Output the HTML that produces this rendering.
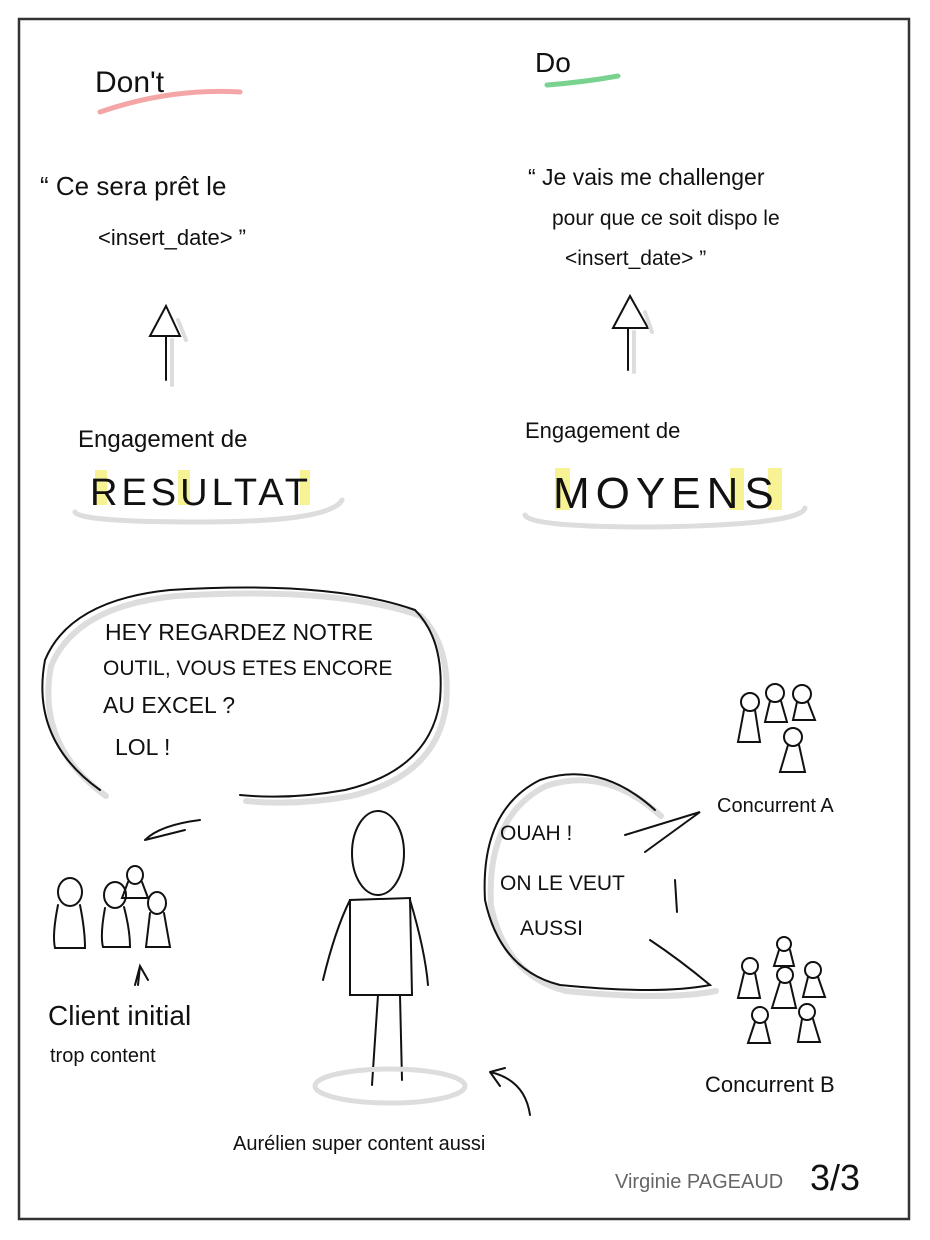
<!DOCTYPE html>
<html><head><meta charset="utf-8"><style>
html,body{margin:0;padding:0;background:#fff;}
svg{display:block;}
text{font-family:"Liberation Sans",sans-serif;fill:#111;}
</style></head><body>
<svg width="930" height="1240" viewBox="0 0 930 1240" xmlns="http://www.w3.org/2000/svg">
<rect x="19" y="19" width="890" height="1200" fill="#fff" stroke="#333" stroke-width="2.5"/>
<g fill="none" stroke-linecap="round">
<!-- headers underline -->
<path d="M100 112 Q170 88 240 92" stroke="#f4a5a5" stroke-width="5"/>
<path d="M547 85 Q585 82 618 76" stroke="#79d38f" stroke-width="5"/>
<!-- arrows -->
<g stroke="#111" stroke-width="2">
<path d="M166 380 L166 335"/><path d="M150 336 L166 306 L180 336 Z" fill="#fff"/>
<path d="M628 370 L628 328"/><path d="M613 328 L630 296 L648 328 Z" fill="#fff"/>
</g>
<path d="M172 385 L172 340 M186 340 L178 320" stroke="#ddd" stroke-width="4"/>
<path d="M634 372 L634 332 M652 332 L645 312" stroke="#ddd" stroke-width="4"/>
<!-- ellipses under words -->
<path d="M75 512 Q80 522 200 522 Q330 522 342 500" stroke="#ddd" stroke-width="5"/>
<path d="M525 515 Q530 527 650 527 Q800 525 805 508" stroke="#ddd" stroke-width="5"/>
<!-- speech bubble left -->
<path d="M100 790 Q30 740 45 660 Q70 600 170 590 Q330 580 415 610 Q445 640 440 700 Q430 770 345 790 Q290 800 240 795" stroke="#ddd" stroke-width="6" transform="translate(6,6)"/>
<path d="M100 790 Q30 740 45 660 Q70 600 170 590 Q330 580 415 610 Q445 640 440 700 Q430 770 345 790 Q290 800 240 795" stroke="#111" stroke-width="2"/>
<path d="M145 840 Q160 825 200 820 M145 840 L185 830" stroke="#111" stroke-width="2"/>
<!-- right bubble -->
<path d="M655 810 Q600 760 540 780 Q480 810 485 900 Q500 970 560 985 Q660 995 710 985" stroke="#ddd" stroke-width="6" transform="translate(6,6)"/>
<path d="M655 810 Q600 760 540 780 Q480 810 485 900 Q500 970 560 985 Q660 995 710 985 Q680 960 650 940" stroke="#111" stroke-width="2"/>
<path d="M625 835 L700 812 L645 852" stroke="#111" stroke-width="2"/>
<path d="M675 880 L677 912" stroke="#111" stroke-width="2"/>
<!-- person -->
<g stroke="#111" stroke-width="2">
<ellipse cx="378" cy="853" rx="26" ry="42"/>
<path d="M350 900 L350 995 L412 995 L410 898 Z" fill="#fff"/>
<path d="M350 900 Q335 930 323 980 M410 900 Q425 950 428 985"/>
<path d="M378 995 L372 1085 M400 995 L402 1080"/>
</g>
<ellipse cx="390" cy="1086" rx="75" ry="17" stroke="#ddd" stroke-width="5"/>
<path d="M530 1115 Q525 1080 490 1072 M490 1072 L500 1086 M490 1072 L505 1068" stroke="#111" stroke-width="2"/>
<!-- client group -->
<g stroke="#111" stroke-width="2">
<ellipse cx="70" cy="892" rx="12" ry="14"/><path d="M58 905 Q52 935 55 948 L85 948 Q85 930 80 905"/>
<ellipse cx="115" cy="895" rx="11" ry="13"/><path d="M105 908 Q100 935 103 947 L130 947 Q130 930 124 907"/>
<ellipse cx="135" cy="875" rx="8" ry="9"/><path d="M128 882 L122 898 L148 898 L142 882"/>
<ellipse cx="157" cy="903" rx="9" ry="11"/><path d="M150 913 L146 947 L170 947 L164 913"/>
<path d="M135 985 L140 966 L148 980 M140 966 L138 985"/>
</g>
<!-- concurrent A -->
<g stroke="#111" stroke-width="2">
<circle cx="750" cy="702" r="9"/><path d="M744 710 L738 742 L760 742 L755 710"/>
<circle cx="775" cy="693" r="9"/><path d="M770 701 L765 722 L787 722 L781 701"/>
<circle cx="802" cy="694" r="9"/><path d="M797 702 L793 720 L815 720 L808 702"/>
<circle cx="793" cy="737" r="9"/><path d="M788 745 L780 772 L805 772 L799 745"/>
</g>
<!-- concurrent B -->
<g stroke="#111" stroke-width="2">
<circle cx="784" cy="944" r="7"/><path d="M779 950 L774 966 L794 966 L790 950"/>
<circle cx="750" cy="966" r="8"/><path d="M744 973 L738 998 L760 998 L755 973"/>
<circle cx="785" cy="975" r="8"/><path d="M780 982 L772 1008 L796 1008 L790 982"/>
<circle cx="813" cy="970" r="8"/><path d="M808 977 L803 997 L825 997 L818 977"/>
<circle cx="760" cy="1015" r="8"/><path d="M755 1022 L748 1043 L770 1043 L765 1022"/>
<circle cx="807" cy="1012" r="8"/><path d="M802 1019 L798 1042 L820 1042 L813 1019"/>
</g>
</g>
<!-- yellow highlight blocks -->
<g fill="#f5f07a" opacity="0.8">
<rect x="95" y="470" width="12" height="35"/><rect x="178" y="470" width="12" height="35"/><rect x="300" y="470" width="10" height="35"/>
<rect x="555" y="468" width="15" height="42"/><rect x="730" y="468" width="14" height="42"/><rect x="768" y="468" width="14" height="42"/>
</g>
<text x="95" y="92" font-size="30">Don't</text>
<text x="535" y="72" font-size="28">Do</text>
<text x="40" y="195" font-size="26">“ Ce sera prêt le</text>
<text x="98" y="245" font-size="22">&lt;insert_date&gt; ”</text>
<text x="528" y="185" font-size="23">“ Je vais me challenger</text>
<text x="552" y="225" font-size="21">pour que ce soit dispo le</text>
<text x="565" y="265" font-size="21">&lt;insert_date&gt; ”</text>
<text x="78" y="447" font-size="24">Engagement de</text>
<text x="525" y="438" font-size="22">Engagement de</text>
<text x="90" y="505" font-size="38" letter-spacing="4">RESULTAT</text>
<text x="553" y="508" font-size="44" letter-spacing="6">MOYENS</text>
<text x="105" y="640" font-size="23">HEY REGARDEZ NOTRE</text>
<text x="103" y="675" font-size="21">OUTIL, VOUS ETES ENCORE</text>
<text x="103" y="713" font-size="23">AU EXCEL ?</text>
<text x="115" y="755" font-size="23">LOL !</text>
<text x="500" y="840" font-size="21">OUAH !</text>
<text x="500" y="890" font-size="21">ON LE VEUT</text>
<text x="520" y="935" font-size="21">AUSSI</text>
<text x="717" y="812" font-size="20">Concurrent A</text>
<text x="705" y="1092" font-size="22">Concurrent B</text>
<text x="48" y="1025" font-size="28">Client initial</text>
<text x="50" y="1062" font-size="20">trop content</text>
<text x="233" y="1150" font-size="20">Aurélien super content aussi</text>
<text x="615" y="1188" font-size="20" fill="#666" style="fill:#666">Virginie PAGEAUD</text>
<text x="810" y="1190" font-size="36">3/3</text>
</svg>
</body></html>
